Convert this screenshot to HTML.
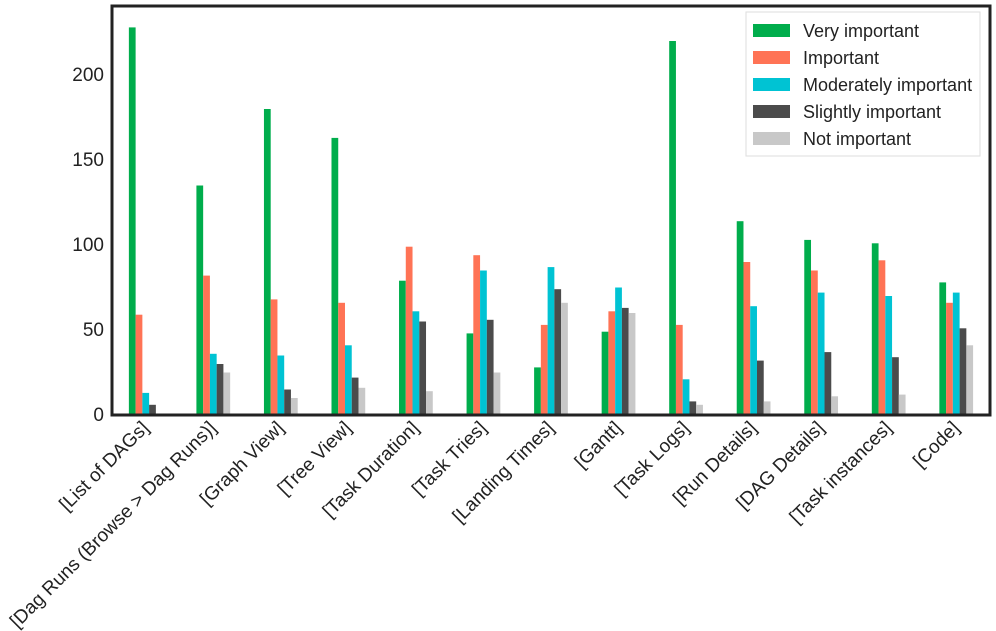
<!DOCTYPE html>
<html><head><meta charset="utf-8"><style>body{margin:0;background:#fff}svg{display:block;font-family:"Liberation Sans","DejaVu Sans",sans-serif}</style></head><body>
<svg id="s" width="996" height="631" xmlns="http://www.w3.org/2000/svg">
<g id="bars"></g>
<rect x="112" y="6" width="878" height="409" fill="none" stroke="#222" stroke-width="3"/>
<g font-size="19" fill="#222" text-anchor="end">
<text x="104" y="421">0</text><text x="104" y="336">50</text><text x="104" y="251">100</text><text x="104" y="166">150</text><text x="104" y="81">200</text>
</g>
<g id="labels" font-size="19" fill="#222" text-anchor="end"></g>
<g font-size="18" fill="#222">
<rect x="746" y="12" width="234" height="144" fill="#fff" stroke="#ddd"/>
<rect x="753" y="24" width="37" height="13" fill="#00ad4c"/><text x="803" y="37">Very important</text>
<rect x="753" y="51" width="37" height="13" fill="#ff7355"/><text x="803" y="64">Important</text>
<rect x="753" y="78" width="37" height="13" fill="#00c3d3"/><text x="803" y="91">Moderately important</text>
<rect x="753" y="105" width="37" height="13" fill="#4b4b4b"/><text x="803" y="118">Slightly important</text>
<rect x="753" y="132" width="37" height="13" fill="#c8c8c8"/><text x="803" y="145">Not important</text>
</g>
</svg>
<script>
var d=[["[List of DAGs]",228,59,13,6,0],["[Dag Runs (Browse > Dag Runs)]",135,82,36,30,25],["[Graph View]",180,68,35,15,10],["[Tree View]",163,66,41,22,16],["[Task Duration]",79,99,61,55,14],["[Task Tries]",48,94,85,56,25],["[Landing Times]",28,53,87,74,66],["[Gantt]",49,61,75,63,60],["[Task Logs]",220,53,21,8,6],["[Run Details]",114,90,64,32,8],["[DAG Details]",103,85,72,37,11],["[Task instances]",101,91,70,34,12],["[Code]",78,66,72,51,41]];
var c=["#00ad4c","#ff7355","#00c3d3","#4b4b4b","#c8c8c8"];
var b="",l="";
d.forEach(function(r,i){var cx=112+67.54*(i+0.5);
for(var k=0;k<5;k++){var h=r[k+1]*1.7;var x=cx-16.9+k*6.75;b+='<rect x="'+x.toFixed(2)+'" y="'+(415-h).toFixed(1)+'" width="6.75" height="'+h.toFixed(1)+'" fill="'+c[k]+'"/>';}
var t=r[0].replace(/>/g,"&gt;");
l+='<text transform="translate('+(cx+4).toFixed(1)+',429) rotate(-45)">'+t+'</text>';});
document.getElementById("bars").innerHTML=b;document.getElementById("labels").innerHTML=l;
</script>
</body></html>
